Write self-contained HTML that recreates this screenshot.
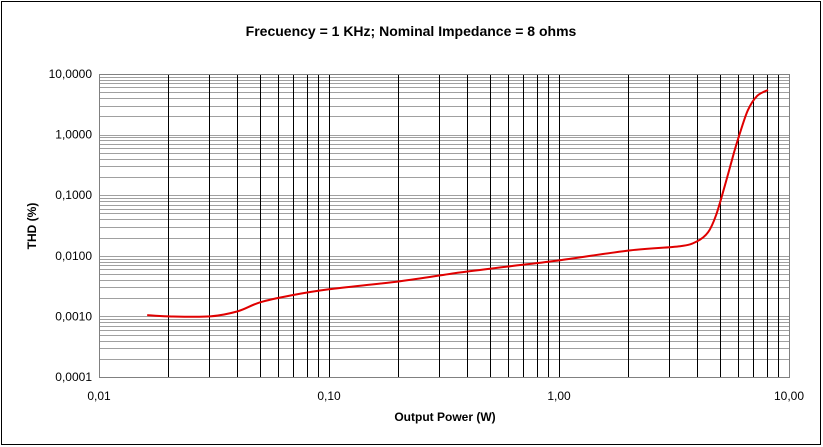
<!DOCTYPE html>
<html><head><meta charset="utf-8"><style>
html,body{margin:0;padding:0;background:#fff}
svg{display:block;font-family:"Liberation Sans",Arial,sans-serif}
</style></head><body>
<svg id="chart" width="823" height="447" viewBox="0 0 823 447" xmlns="http://www.w3.org/2000/svg">
<rect x="1.5" y="1.5" width="819" height="443" fill="#fff" stroke="#000" stroke-width="1"/>
<text x="411" y="36" text-anchor="middle" font-size="14" font-weight="bold">Frecuency = 1 KHz; Nominal Impedance = 8 ohms</text>
<text x="445" y="421" text-anchor="middle" font-size="12" font-weight="bold">Output Power (W)</text>
<text x="0" y="0" transform="translate(36,226) rotate(-90)" text-anchor="middle" font-size="12" font-weight="bold">THD (%)</text>
<g id="grid"></g><g id="labels"></g><g id="series"></g>
</svg>
<script>
const xTicks=[0.01,0.1,1,10];
const xTickLabels=["0,01","0,10","1,00","10,00"];
const yTicks=[0.0001,0.001,0.01,0.1,1,10];
const yTickLabels=["0,0001","0,0010","0,0100","0,1000","1,0000","10,0000"];
const powerW=[0.0162,0.02,0.0304,0.04,0.05,0.0676,0.1,0.204,0.37,0.61,1.02,2.04,3.36,3.98,4.45,4.82,5.27,5.77,6.12,6.63,7.26,8.1];
const thdPct=[0.00105,0.001,0.001,0.00121,0.0017,0.0022,0.0028,0.0038,0.0053,0.0067,0.0085,0.0123,0.0144,0.0173,0.0245,0.047,0.147,0.51,1.06,2.54,4.33,5.45];
const L=99,R=789,T=74,B=377;
const xs=v=>L+(Math.log10(v)+2)/3*(R-L);
const ys=v=>T+(1-Math.log10(v))/5*(B-T);
const NS="http://www.w3.org/2000/svg";
function mk(tag,attrs,parent){const e=document.createElementNS(NS,tag);for(const k in attrs)e.setAttribute(k,attrs[k]);parent.appendChild(e);return e;}
const grid=document.getElementById('grid'),lab=document.getElementById('labels'),ser=document.getElementById('series');
// horizontal minor grid
for(let d=-4;d<1;d++)for(let m=1;m<10;m++){const v=m*Math.pow(10,d);const y=Math.round(ys(v))+0.5;
const ln=mk('line',{x1:L,x2:R,y1:y,y2:y,stroke:'#a0a0a0','stroke-width':1},grid);

}
// vertical grid
for(let d=-2;d<1;d++)for(let m=1;m<10;m++){const v=m*Math.pow(10,d);if(m===1&&d===-2)continue;const x=Math.round(xs(v))+0.5;
const ln=mk('line',{x1:x,x2:x,y1:T,y2:B,stroke:'#000','stroke-width':1},grid);

}
const fr=mk('rect',{x:L+0.5,y:T+0.5,width:R-L,height:B-T,fill:'none',stroke:'#808080','stroke-width':1},grid);


yTicks.forEach((v,i)=>{const t=mk('text',{x:92,y:ys(v)+4,'text-anchor':'end','font-size':12},lab);t.textContent=yTickLabels[i];

});
xTicks.forEach((v,i)=>{const t=mk('text',{x:xs(v),y:400,'text-anchor':'middle','font-size':12},lab);t.textContent=xTickLabels[i];

});
// smooth path (catmull-rom)
const P=powerW.map((p,i)=>[xs(p),ys(thdPct[i])]);
let d='M'+P[0][0]+','+P[0][1];
for(let i=0;i<P.length-1;i++){const p0=P[Math.max(0,i-1)],p1=P[i],p2=P[i+1],p3=P[Math.min(P.length-1,i+2)];
d+=' C'+(p1[0]+(p2[0]-p0[0])/6)+','+(p1[1]+(p2[1]-p0[1])/6)+' '+(p2[0]-(p3[0]-p1[0])/6)+','+(p2[1]-(p3[1]-p1[1])/6)+' '+p2[0]+','+p2[1];}
const path=mk('path',{d:d,fill:'none',stroke:'#e00000','stroke-width':2},ser);


</script>
</body></html>
